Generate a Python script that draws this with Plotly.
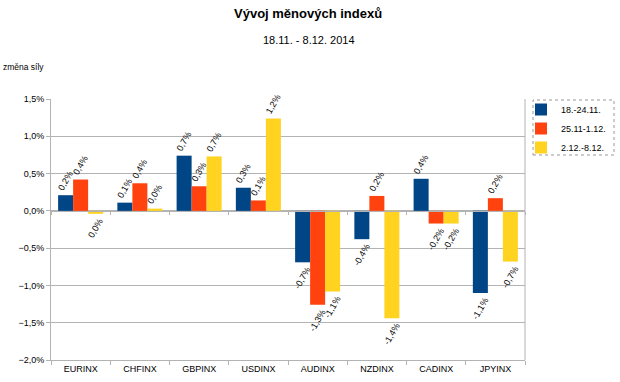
import plotly.graph_objects as go

categories = ["EURINX", "CHFINX", "GBPINX", "USDINX", "AUDINX", "NZDINX", "CADINX", "JPYINX"]
series_names = ["18.-24.11.", "25.11-1.12.", "2.12.-8.12."]
s1 = [0.21, 0.11, 0.74, 0.31, -0.69, -0.38, 0.43, -1.10]
s2 = [0.42, 0.37, 0.33, 0.14, -1.26, 0.20, -0.17, 0.17]
s3 = [-0.04, 0.03, 0.73, 1.24, -1.08, -1.44, -0.17, -0.68]
colors = ["#004586", "#ff420e", "#ffd320"]
y_ticks = [-2.0, -1.5, -1.0, -0.5, 0.0, 0.5, 1.0, 1.5]


def lbl(v):
    r = round(v, 1)
    if r == 0:
        r = 0.0
    return f"{r:.1f}".replace(".", ",") + "%"


fig = go.Figure()
for name, vals, col in zip(series_names, [s1, s2, s3], colors):
    fig.add_trace(go.Bar(
        x=categories, y=[v / 100 for v in vals], name=name,
        marker=dict(color=col, line=dict(width=0)),
        text=[lbl(v) for v in vals], textposition="outside", textangle=-60,
        constraintext="none", cliponaxis=False,
        textfont=dict(family="Liberation Sans, Arial", size=9, color="#000"),
    ))

# secondary axis drawing tick marks on the zero line
fig.add_trace(go.Scatter(x=[], y=[], xaxis="x2", yaxis="y", showlegend=False))

ymin, ymax = y_ticks[0] / 100, y_ticks[-1] / 100
zero_pos = (0 - ymin) / (ymax - ymin)

L, R, T, B = 51, 95, 99, 22
PW, PH = 620 - L - R, 382 - T - B


def px_x(x):
    return (x - L) / PW


def px_y(y):
    return (382 - B - y) / PH


fig.update_layout(
    width=620, height=382, autosize=False,
    paper_bgcolor="white", plot_bgcolor="white",
    separators=", ",
    font=dict(family="Liberation Sans, Arial", size=9, color="#000"),
    margin=dict(l=L, r=R, t=T, b=B, autoexpand=False),
    barmode="group", bargap=0.24, bargroupgap=0,
    showlegend=True,
    legend=dict(x=px_x(521), y=px_y(95), xanchor="left", yanchor="top",
                borderwidth=0, bgcolor="rgba(0,0,0,0)",
                font=dict(size=9), tracegroupgap=0, itemwidth=30),
    xaxis=dict(type="category", showgrid=False, showline=True, linecolor="#b3b3b3",
               ticks="outside", tickson="boundaries", ticklen=4, tickcolor="#b3b3b3",
               mirror=False, tickfont=dict(size=9), zeroline=False),
    xaxis2=dict(overlaying="x", anchor="free", position=zero_pos, range=[-0.5, 7.5],
                tickvals=[i - 0.5 for i in range(len(categories) + 1)],
                showticklabels=False, ticks="outside", ticklen=3, tickcolor="#b3b3b3",
                showline=True, linecolor="#b3b3b3", showgrid=False, zeroline=False),
    yaxis=dict(range=[ymin, ymax], tickvals=[v / 100 for v in y_ticks], tickformat=".1%",
               showgrid=True, gridcolor="#b3b3b3", showline=True, linecolor="#b3b3b3",
               ticks="outside", ticklen=4, tickcolor="#b3b3b3", zeroline=False,
               tickfont=dict(size=9), mirror=False),
    annotations=[
        dict(text="<b>Vývoj měnových indexů</b>", xref="paper", yref="paper",
             x=px_x(308), y=px_y(13), yanchor="middle", showarrow=False, font=dict(size=13)),
        dict(text="18.11. - 8.12. 2014", xref="paper", yref="paper",
             x=px_x(309), y=px_y(40), yanchor="middle", showarrow=False, font=dict(size=11)),
        dict(text="změna síly", xref="paper", yref="paper", xanchor="left",
             x=px_x(1), y=px_y(67), yanchor="middle", showarrow=False, font=dict(size=8.5)),
    ],
    shapes=[
        dict(type="line", xref="paper", yref="paper", x0=1, x1=1, y0=0, y1=1,
             line=dict(color="#b3b3b3", width=1)),
        dict(type="rect", xref="paper", yref="paper",
             x0=px_x(533), x1=px_x(614), y0=px_y(155), y1=px_y(100),
             line=dict(color="#999999", width=1, dash="dot")),
    ],
)

fig.write_html("out.html", config={"displayModeBar": False},
               post_script="document.body.style.margin='0';document.body.style.overflow='hidden';")
